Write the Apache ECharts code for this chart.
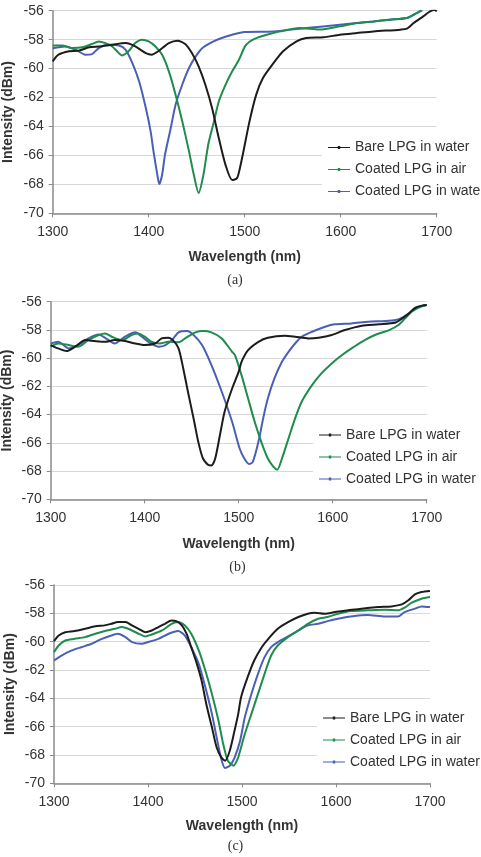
<!DOCTYPE html>
<html>
<head>
<meta charset="utf-8">
<script src="https://cdn.jsdelivr.net/npm/echarts@6/dist/echarts.min.js"></script>
<style>
html,body{margin:0;padding:0;background:#fff;}
#chart{width:481px;height:857px;}
</style>
</head>
<body>
<div id="chart"></div>
<script>
// Series names (legend)
const seriesNames = ['Bare LPG in water', 'Coated LPG in air', 'Coated LPG in water'];
const captions = ['(a)', '(b)', '(c)'];
const xTicks = [1300, 1400, 1500, 1600, 1700];
const yTicks = [-70, -68, -66, -64, -62, -60, -58, -56];

// Panel (a): [wavelength nm, intensity dBm]
const aBare = [[1300,-59.5],[1306,-59.04],[1317,-58.8],[1327,-58.76],[1338,-58.53],[1348,-58.47],[1362,-58.35],[1376,-58.24],[1386,-58.47],[1397,-58.93],[1403,-59.04],[1410,-58.8],[1421,-58.24],[1430,-58.07],[1438,-58.3],[1445,-58.93],[1452,-59.85],[1459,-61.12],[1466,-62.73],[1473,-64.8],[1480,-66.65],[1487,-67.7],[1492,-67.57],[1495,-66.88],[1498,-65.95],[1505,-63.65],[1512,-61.8],[1519,-60.65],[1530,-59.62],[1540,-58.8],[1554,-58.12],[1564,-57.89],[1582,-57.84],[1599,-57.66],[1617,-57.54],[1634,-57.43],[1662,-57.31],[1669,-57.24],[1676,-56.85],[1686,-56.39],[1693,-56.05],[1698,-55.95],[1700,-56.05]];
const aAir = [[1300,-58.4],[1310,-58.4],[1320,-58.58],[1331,-58.53],[1341,-58.3],[1348,-58.12],[1355,-58.24],[1362,-58.47],[1367,-58.8],[1372,-59.09],[1379,-58.8],[1386,-58.24],[1393,-58.0],[1400,-58.12],[1407,-58.47],[1414,-59.04],[1421,-60.19],[1428,-61.8],[1435,-63.65],[1442,-65.72],[1447,-67.34],[1452,-68.6],[1457,-67.34],[1462,-65.26],[1468,-63.65],[1473,-62.27],[1480,-61.12],[1487,-60.19],[1494,-59.39],[1500,-58.5],[1505,-58.15],[1512,-57.9],[1523,-57.66],[1537,-57.43],[1557,-57.2],[1578,-57.3],[1599,-57.08],[1617,-56.85],[1634,-56.74],[1651,-56.62],[1669,-56.5],[1676,-56.28],[1685,-55.97]];
const aWater = [[1300,-58.6],[1313,-58.47],[1324,-58.7],[1334,-59.04],[1341,-59.0],[1348,-58.58],[1358,-58.35],[1369,-58.4],[1376,-58.7],[1383,-59.62],[1390,-60.88],[1397,-62.73],[1402,-64.34],[1405,-65.72],[1409,-67.34],[1411,-67.98],[1414,-67.34],[1417,-65.95],[1423,-64.1],[1428,-62.5],[1435,-61.1],[1442,-59.96],[1449,-59.16],[1456,-58.58],[1466,-58.17],[1476,-57.89],[1487,-57.66],[1500,-57.47],[1530,-57.43],[1564,-57.2],[1599,-56.97],[1634,-56.74],[1651,-56.62],[1669,-56.5],[1676,-56.28],[1684,-55.97]];

// Panel (b)
const bBare = [[1300,-59.07],[1308,-59.31],[1317,-59.5],[1326,-59.19],[1337,-58.72],[1347,-58.79],[1358,-58.84],[1368,-58.72],[1379,-58.79],[1390,-58.96],[1400,-59.07],[1411,-58.96],[1418,-58.6],[1425,-58.55],[1430,-58.72],[1436,-59.31],[1441,-60.73],[1446,-62.38],[1452,-64.27],[1457,-65.93],[1462,-67.11],[1468,-67.58],[1471,-67.6],[1475,-67.11],[1480,-65.46],[1485,-63.8],[1493,-62.15],[1500,-60.96],[1503,-60.26],[1510,-59.43],[1521,-58.84],[1531,-58.55],[1549,-58.41],[1560,-58.48],[1574,-58.6],[1585,-58.55],[1599,-58.36],[1613,-58.01],[1631,-57.7],[1649,-57.6],[1667,-57.47],[1674,-57.18],[1681,-56.83],[1688,-56.43],[1695,-56.28],[1700,-56.24]];
const bAir = [[1300,-59.19],[1308,-58.96],[1319,-59.07],[1329,-59.19],[1340,-58.72],[1351,-58.36],[1358,-58.25],[1365,-58.48],[1376,-58.72],[1386,-58.36],[1393,-58.25],[1400,-58.48],[1407,-58.84],[1416,-58.96],[1425,-58.84],[1436,-58.88],[1443,-58.6],[1454,-58.17],[1462,-58.08],[1471,-58.17],[1482,-58.6],[1493,-59.55],[1496,-59.78],[1503,-61.2],[1510,-62.86],[1517,-64.51],[1524,-65.93],[1531,-67.11],[1537,-67.7],[1541,-67.9],[1546,-67.11],[1553,-65.69],[1560,-64.27],[1567,-63.09],[1578,-61.91],[1588,-61.08],[1599,-60.37],[1610,-59.78],[1620,-59.31],[1631,-58.84],[1645,-58.36],[1660,-58.01],[1670,-57.65],[1677,-57.18],[1684,-56.71],[1691,-56.43],[1700,-56.24]];
const bWater = [[1300,-58.96],[1308,-58.84],[1319,-59.31],[1329,-59.07],[1340,-58.6],[1351,-58.32],[1360,-58.65],[1368,-58.96],[1379,-58.48],[1390,-58.17],[1397,-58.48],[1404,-58.84],[1415,-59.19],[1422,-59.07],[1429,-58.72],[1436,-58.17],[1445,-58.08],[1452,-58.36],[1461,-59.07],[1471,-60.49],[1482,-62.38],[1493,-64.51],[1501,-66.4],[1506,-67.11],[1511,-67.5],[1515,-67.35],[1521,-65.93],[1526,-64.27],[1531,-62.86],[1538,-61.44],[1546,-60.26],[1553,-59.55],[1560,-58.96],[1567,-58.48],[1578,-58.13],[1592,-57.77],[1602,-57.6],[1620,-57.54],[1638,-57.42],[1656,-57.37],[1667,-57.3],[1674,-57.13],[1681,-56.83],[1688,-56.43],[1700,-56.24]];

// Panel (c)
const cBare = [[1300,-59.96],[1305,-59.56],[1312,-59.33],[1322,-59.25],[1333,-59.09],[1344,-58.92],[1354,-58.85],[1361,-58.74],[1368,-58.62],[1376,-58.62],[1383,-58.85],[1390,-59.09],[1397,-59.33],[1404,-59.21],[1411,-58.97],[1418,-58.74],[1425,-58.5],[1430,-58.55],[1436,-58.85],[1441,-59.44],[1446,-60.39],[1452,-61.57],[1457,-62.75],[1462,-64.4],[1468,-66.05],[1473,-67.46],[1478,-68.17],[1482,-68.4],[1487,-67.7],[1492,-66.3],[1496,-65.1],[1499,-63.92],[1506,-62.51],[1513,-61.33],[1521,-60.39],[1528,-59.8],[1538,-59.09],[1549,-58.62],[1560,-58.26],[1570,-58.03],[1577,-57.96],[1588,-58.03],[1599,-57.91],[1613,-57.79],[1627,-57.67],[1645,-57.56],[1659,-57.51],[1670,-57.37],[1677,-57.08],[1684,-56.66],[1691,-56.5],[1700,-56.42]];
const cAir = [[1300,-60.74],[1305,-60.27],[1312,-59.92],[1322,-59.8],[1333,-59.68],[1344,-59.44],[1354,-59.25],[1365,-59.09],[1372,-58.97],[1379,-59.09],[1390,-59.44],[1397,-59.63],[1404,-59.49],[1415,-59.21],[1425,-58.74],[1432,-58.62],[1439,-58.85],[1446,-59.44],[1454,-60.62],[1461,-62.04],[1468,-63.69],[1475,-65.58],[1480,-67.23],[1485,-68.41],[1491,-68.76],[1496,-68.17],[1498,-67.7],[1503,-66.52],[1510,-65.1],[1517,-63.69],[1524,-62.27],[1531,-60.98],[1538,-60.27],[1549,-59.68],[1560,-59.21],[1570,-58.74],[1581,-58.38],[1591,-58.26],[1602,-58.03],[1616,-57.84],[1634,-57.79],[1652,-57.75],[1666,-57.79],[1673,-57.6],[1680,-57.27],[1691,-56.97],[1700,-56.85]];
const cWater = [[1300,-61.33],[1308,-60.98],[1319,-60.62],[1329,-60.39],[1340,-60.15],[1351,-59.8],[1361,-59.56],[1368,-59.44],[1376,-59.68],[1383,-60.03],[1393,-60.15],[1400,-60.03],[1411,-59.8],[1422,-59.44],[1432,-59.25],[1439,-59.56],[1446,-60.39],[1454,-61.57],[1461,-63.22],[1468,-65.1],[1473,-66.75],[1478,-68.29],[1482,-68.92],[1487,-68.76],[1492,-68.2],[1498,-66.99],[1503,-65.34],[1510,-63.69],[1517,-62.27],[1524,-61.09],[1531,-60.39],[1538,-60.03],[1549,-59.63],[1560,-59.21],[1570,-58.85],[1581,-58.74],[1591,-58.55],[1602,-58.38],[1616,-58.22],[1634,-58.12],[1652,-58.22],[1666,-58.22],[1673,-57.91],[1684,-57.67],[1691,-57.51],[1700,-57.56]];

const panelData = [[aBare, aAir, aWater], [bBare, bAir, bWater], [cBare, cAir, cWater]];
const colors = ['#1c1c1c', '#1f8c4e', '#4a5fb6'];

// Layout (pixels)
const grids = [
  {left: 52.7, top: 10.7, width: 384, height: 202.6},
  {left: 50.7, top: 301.7, width: 376, height: 197.6},
  {left: 54, top: 585, width: 376, height: 198.3}
];
const yNameGaps = [38, 37, 37];
const xNameGaps = [37, 38, 36];
const legendPos = [{left: 322, top: 137.5}, {left: 313, top: 425}, {left: 317, top: 708}];
const captionPos = [{x: 235, y: 280}, {x: 237.5, y: 567}, {x: 235.5, y: 846}];

const FONT = '"Liberation Sans", Arial, sans-serif';
const LEGEND_ICON = 'path://M0,1L22,1L22,2.2L0,2.2Z M9.8,0L12.2,0L12.2,3.2L9.8,3.2Z';

const option = {
  backgroundColor: '#ffffff',
  animation: false,
  grid: grids.map(g => Object.assign({containLabel: false, outerBoundsMode: 'none'}, g)),
  xAxis: grids.map((g, i) => ({
    type: 'value', gridIndex: i, min: xTicks[0], max: xTicks[xTicks.length - 1], interval: 100,
    name: 'Wavelength (nm)', nameLocation: 'middle', nameGap: xNameGaps[i], nameMoveOverlap: false,
    nameTextStyle: {fontFamily: FONT, fontWeight: 'bold', fontSize: 14, color: '#333'},
    axisLine: {show: true, onZero: false, lineStyle: {color: '#8a8a8a', width: 1.5}},
    axisTick: {show: true, length: 4, lineStyle: {color: '#8a8a8a', width: 1}},
    axisLabel: {fontFamily: FONT, fontSize: 14, color: '#333', margin: 12, formatter: v => String(v)},
    splitLine: {show: false}
  })),
  yAxis: grids.map((g, i) => ({
    type: 'value', gridIndex: i, min: yTicks[0], max: yTicks[yTicks.length - 1], interval: 2,
    name: 'Intensity (dBm)', nameLocation: 'middle', nameGap: yNameGaps[i], nameMoveOverlap: false,
    nameTextStyle: {fontFamily: FONT, fontWeight: 'bold', fontSize: 14, color: '#333'},
    axisLine: {show: true, onZero: false, lineStyle: {color: '#8a8a8a', width: 1.5}},
    axisTick: {show: true, length: 4, lineStyle: {color: '#8a8a8a', width: 1}},
    axisLabel: {fontFamily: FONT, fontSize: 14, color: '#333', margin: 9, formatter: v => String(v)},
    splitLine: {show: true, lineStyle: {color: '#d8d8d8', width: 1}}
  })),
  legend: legendPos.map(p => ({
    data: seriesNames.map((n, k) => ({name: n, icon: LEGEND_ICON, itemStyle: {color: colors[k]}})),
    orient: 'vertical', left: p.left, top: p.top,
    itemWidth: 22, itemHeight: 3.2, itemGap: 8,
    padding: [3, 4, 3, 6], backgroundColor: '#ffffff',
    textStyle: {fontFamily: FONT, fontSize: 14, color: '#333'}
  })),
  series: [],
  graphic: captionPos.map((p, i) => ({
    type: 'text', x: p.x, y: p.y,
    style: {text: captions[i], font: '14px "Liberation Serif", "Times New Roman", serif', fill: '#333', textAlign: 'center', textVerticalAlign: 'middle'}
  }))
};

panelData.forEach((panel, gi) => {
  panel.forEach((d, si) => {
    option.series.push({
      type: 'line', name: seriesNames[si], xAxisIndex: gi, yAxisIndex: gi,
      data: d, smooth: 0.25, symbol: 'circle', symbolSize: 3, showSymbol: false,
      lineStyle: {color: colors[si], width: 2},
      itemStyle: {color: colors[si]},
      z: 3 - si
    });
  });
});

const chart = echarts.init(document.getElementById('chart'), null, {renderer: 'canvas'});
chart.setOption(option);
</script>
</body>
</html>
